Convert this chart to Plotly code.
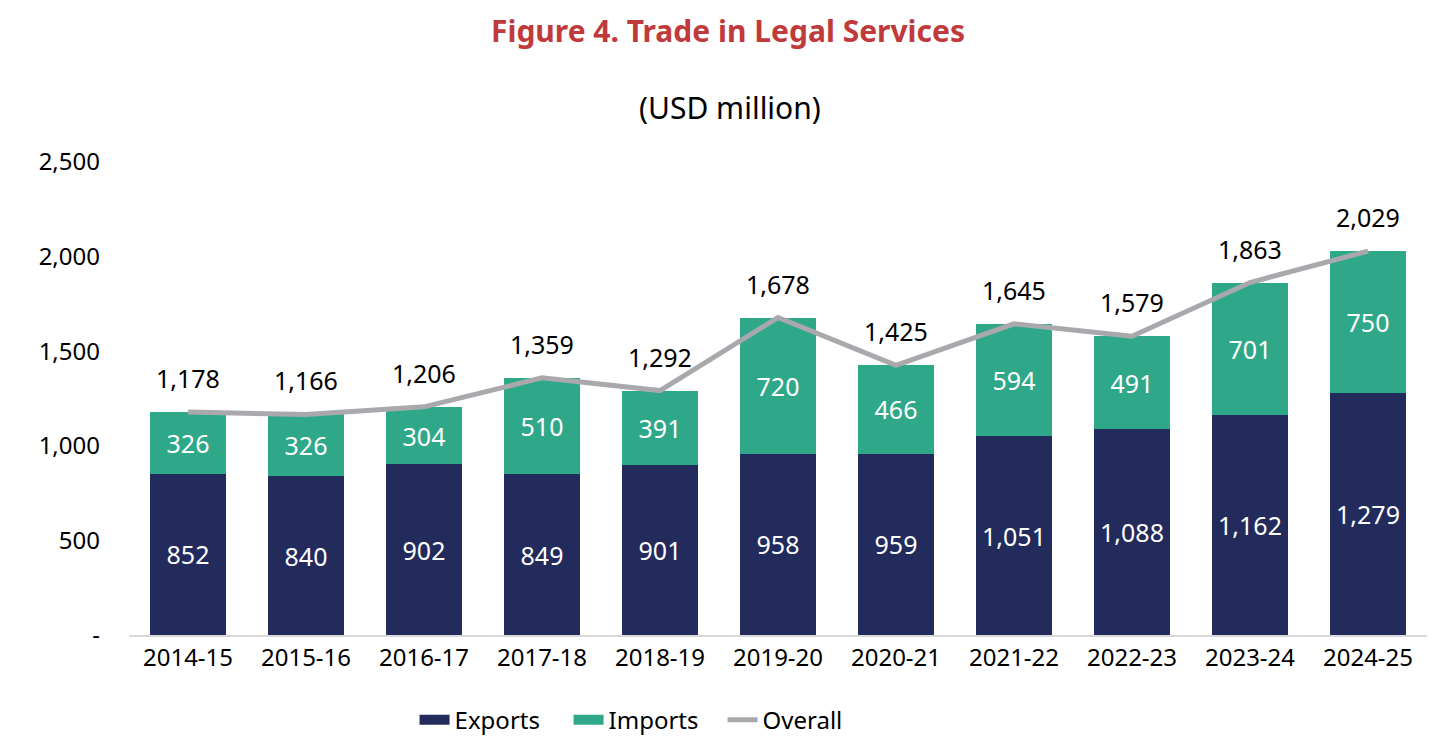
import plotly.graph_objects as go

years = ['2014-15', '2015-16', '2016-17', '2017-18', '2018-19', '2019-20',
         '2020-21', '2021-22', '2022-23', '2023-24', '2024-25']
exports = [852, 840, 902, 849, 901, 958, 959, 1051, 1088, 1162, 1279]
imports = [326, 326, 304, 510, 391, 720, 466, 594, 491, 701, 750]
overall = [1178, 1166, 1206, 1359, 1292, 1678, 1425, 1645, 1579, 1863, 2029]

y_ticks = [0, 500, 1000, 1500, 2000, 2500]
y_tick_text = ['-', '500', '1,000', '1,500', '2,000', '2,500']

FONT = 'Noto Sans'
NAVY = '#232A5C'
GREEN = '#2EA888'
GREY = '#A9A9AD'

fig = go.Figure()
fig.add_trace(go.Bar(
    x=years, y=exports, name='Exports', showlegend=False,
    marker=dict(color=NAVY, line=dict(width=0)),
    text=[f'{v:,}' for v in exports], textposition='inside', insidetextanchor='middle',
    textfont=dict(color='white', size=25, family=FONT),
))
fig.add_trace(go.Bar(
    x=years, y=imports, name='Imports', showlegend=False,
    marker=dict(color=GREEN, line=dict(width=0)),
    text=[f'{v:,}' for v in imports], textposition='inside', insidetextanchor='middle',
    textfont=dict(color='white', size=25, family=FONT),
))
fig.add_trace(go.Scatter(
    x=years, y=overall, name='Overall', mode='lines', showlegend=False,
    line=dict(color=GREY, width=5),
))

# legend entries drawn as wide swatches like the original
for name, color, w in [('Exports', NAVY, 14), ('Imports', GREEN, 14), ('Overall', GREY, 5)]:
    fig.add_trace(go.Scatter(x=[None], y=[None], name=name, mode='lines',
                             line=dict(color=color, width=w)))

# labels above the overall line
for yr, v in zip(years, overall):
    fig.add_annotation(x=yr, y=v, text=f'{v:,}', showarrow=False, yshift=34,
                       font=dict(size=25, color='black', family=FONT))

fig.add_annotation(text='(USD million)', xref='paper', yref='paper', x=0.463, y=1.116,
                   xanchor='center', yanchor='middle', showarrow=False,
                   font=dict(size=30, color='black', family=FONT))

fig.update_layout(
    width=1456, height=748,
    barmode='stack', bargap=0.35,
    plot_bgcolor='white', paper_bgcolor='white',
    margin=dict(l=121, r=37, t=154, b=121),
    title=dict(text='<b>Figure 4. Trade in Legal Services</b>', x=0.4945, xanchor='center',
               y=1 - 23 / 748, yanchor='middle',
               font=dict(size=30, color='#C0393B', family=FONT)),
    font=dict(family=FONT, color='black'),
    showlegend=True,
    legend=dict(orientation='h', x=0.22, xanchor='left', y=-0.18, yanchor='middle',
                font=dict(size=24, color='black', family=FONT), traceorder='normal',
                entrywidth=109, entrywidthmode='pixels'),
    xaxis=dict(showline=True, linecolor='#D9D9D9', linewidth=2, ticks='',
               tickfont=dict(size=24, color='black', family=FONT), showgrid=False),
    yaxis=dict(range=[0, 2500], tickvals=y_ticks, ticktext=y_tick_text, showgrid=False,
               zeroline=False, showline=False, ticks='', ticklabelstandoff=28,
               tickfont=dict(size=24, color='black', family=FONT)),
)

fig.write_html('out.html')
